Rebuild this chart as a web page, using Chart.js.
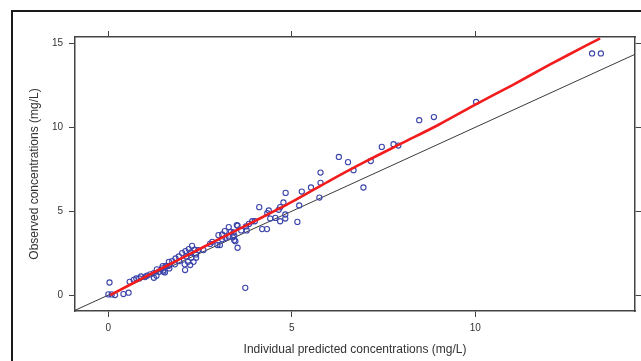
<!DOCTYPE html>
<html>
<head>
<meta charset="utf-8">
<script src="https://cdn.jsdelivr.net/npm/chart.js@4.4.1/dist/chart.umd.min.js"></script>
<style>
  html, body { margin: 0; padding: 0; background: #fff; }
  #wrap { width: 641px; height: 361px; position: relative; }
</style>
</head>
<body>
<div id="wrap"><canvas id="c" width="641" height="361"></canvas></div>
<script>
// Individual predicted concentrations (x) and observed concentrations (y), mg/L
const predX = [0.03,0.00,0.09,0.18,0.41,0.55,0.58,0.69,0.76,0.84,0.89,1.00,1.05,1.14,1.24,1.31,1.24,1.38,1.49,1.54,1.65,1.56,1.65,1.46,1.50,1.59,1.66,1.32,1.48,1.74,1.81,1.83,1.92,1.93,2.01,2.08,2.10,2.12,2.17,2.19,2.23,2.09,2.25,2.26,2.28,2.32,2.35,2.39,2.39,2.45,2.59,2.77,2.83,2.97,3.04,3.00,3.10,3.10,3.17,3.19,3.28,3.34,3.28,3.39,3.43,3.41,3.43,3.46,3.52,3.52,3.50,3.62,3.75,3.77,3.83,3.92,3.99,3.73,4.11,4.19,4.32,4.33,4.37,4.41,4.55,4.64,4.68,4.68,4.77,4.82,4.82,4.83,5.15,5.20,5.27,5.52,5.78,5.78,5.75,6.28,6.53,6.68,6.95,7.15,7.45,7.77,7.90,8.47,8.87,10.02,13.18,13.42];
const obsY  = [0.75,0.04,0.04,0.00,0.06,0.14,0.79,0.91,0.99,0.99,1.11,1.07,1.15,1.23,1.31,1.15,1.03,1.39,1.47,1.35,1.74,1.74,1.98,1.59,1.39,1.71,1.59,1.53,1.73,2.02,1.83,2.18,2.30,2.02,2.50,1.83,2.62,2.30,1.98,2.74,1.79,1.49,2.54,2.22,2.93,1.98,2.70,2.42,2.22,2.68,2.68,3.05,3.17,2.98,2.98,3.57,3.33,3.61,3.81,3.41,4.05,3.77,3.49,3.45,3.53,3.73,3.27,3.21,2.82,4.13,4.17,3.85,4.09,3.85,4.24,4.40,4.40,0.43,5.24,3.93,3.93,4.88,5.04,4.56,4.60,5.08,5.24,4.40,5.52,4.80,4.56,6.09,4.36,5.34,6.17,6.41,7.30,6.69,5.81,8.23,7.92,7.44,6.41,7.99,8.83,8.99,8.91,10.42,10.61,11.51,14.40,14.40];

// Smoothed (loess-like) trend
const smoothX = [0.05,1,2,3,4,5,6,7,8,9,10,11,12,13,13.4];
const smoothY = [0.00,1.08,2.20,3.32,4.42,5.55,6.78,7.95,9.05,10.15,11.35,12.5,13.7,14.85,15.3];

// Axis ranges and tick labels
const xRange = [-0.91, 14.35];
const yRange = [-0.95, 15.38];
const xTicks = [0, 5, 10];
const yTicks = [0, 5, 10, 15];

const xTitle = 'Individual predicted concentrations (mg/L)';
const yTitle = 'Observed concentrations (mg/L)';

const FONT = "'Liberation Sans', Arial, sans-serif";
const AX = '#444';

const points = predX.map((x, i) => ({ x, y: obsY[i] }));
const smooth = smoothX.map((x, i) => ({ x, y: smoothY[i] }));
const identity = xRange.map(v => ({ x: v, y: v }));

const frame = {
  id: 'outerFrame',
  beforeDraw(chart) {
    const ctx = chart.ctx;
    ctx.save();
    ctx.fillStyle = '#fff';
    ctx.fillRect(0, 0, chart.width, chart.height);
    ctx.strokeStyle = '#1a1a1a';
    ctx.lineWidth = 2;
    ctx.beginPath();
    ctx.moveTo(12, chart.height + 2);
    ctx.lineTo(12, 11);
    ctx.lineTo(chart.width + 2, 11);
    ctx.stroke();
    ctx.restore();
  }
};

function setTicks(arr) {
  return s => { s.ticks = arr.map(v => ({ value: v })); };
}

const gridOpts = { drawOnChartArea: false, drawTicks: true, tickLength: 6, color: AX, lineWidth: 1 };
const borderOpts = { display: true, color: AX, width: 1.5 };

new Chart(document.getElementById('c'), {
  type: 'scatter',
  data: {
    datasets: [
      {
        label: 'identity',
        data: identity,
        showLine: true,
        borderColor: '#3a3a3a',
        borderWidth: 1,
        pointRadius: 0,
        order: 3
      },
      {
        label: 'observations',
        data: points,
        showLine: false,
        borderColor: '#3b44aa',
        backgroundColor: 'rgba(0,0,0,0)',
        borderWidth: 1.1,
        pointRadius: 2.6,
        order: 2
      },
      {
        label: 'smooth',
        data: smooth,
        showLine: true,
        borderColor: '#f21c1c',
        borderWidth: 2.6,
        pointRadius: 0,
        tension: 0.3,
        order: 1
      }
    ]
  },
  options: {
    responsive: false,
    animation: false,
    layout: { padding: 0 },
    plugins: { legend: { display: false }, tooltip: { enabled: false } },
    scales: {
      x: {
        type: 'linear', position: 'bottom',
        min: xRange[0], max: xRange[1],
        afterBuildTicks: setTicks(xTicks),
        afterFit: s => { s.height = 50; },
        grid: gridOpts, border: borderOpts,
        ticks: { font: { size: 10, family: FONT }, color: '#333', padding: 5, maxRotation: 0 },
        title: { display: true, text: xTitle, color: '#333', font: { size: 12, family: FONT }, padding: { top: 0, bottom: 4 } }
      },
      x2: {
        type: 'linear', position: 'top',
        min: xRange[0], max: xRange[1],
        afterBuildTicks: setTicks(xTicks),
        afterFit: s => { s.height = 37; },
        grid: gridOpts, border: borderOpts,
        ticks: { display: false }
      },
      y: {
        type: 'linear', position: 'left',
        min: yRange[0], max: yRange[1],
        afterBuildTicks: setTicks(yTicks),
        afterFit: s => { s.width = 75; },
        grid: gridOpts, border: borderOpts,
        ticks: { font: { size: 10, family: FONT }, color: '#333', padding: 6 },
        title: { display: true, text: yTitle, color: '#333', font: { size: 12, family: FONT }, padding: { top: 27, bottom: 0 } }
      },
      y2: {
        type: 'linear', position: 'right',
        min: yRange[0], max: yRange[1],
        afterBuildTicks: setTicks(yTicks),
        afterFit: s => { s.width = 6; },
        grid: gridOpts, border: borderOpts,
        ticks: { display: false }
      }
    }
  },
  plugins: [frame]
});
</script>
</body>
</html>
